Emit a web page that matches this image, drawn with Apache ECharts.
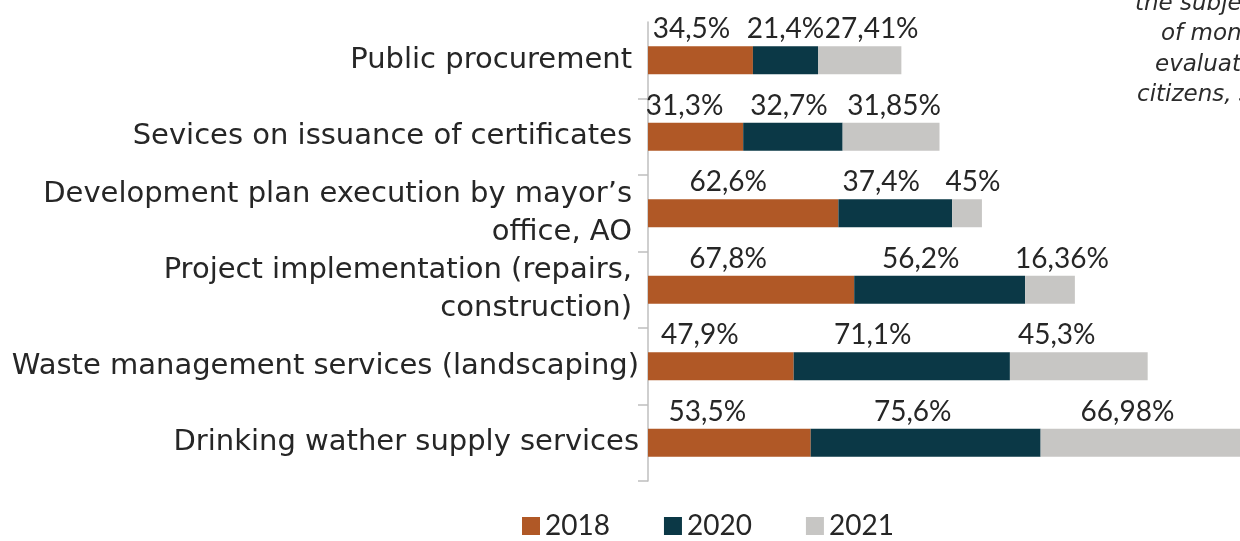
<!DOCTYPE html>
<html>
<head>
<meta charset="utf-8">
<script src="https://cdn.jsdelivr.net/npm/echarts@6/dist/echarts.min.js"></script>
<style>html,body{margin:0;padding:0;background:#fff;}#c{width:1240px;height:541px;}</style>
</head>
<body>
<div id="c"></div>
<script>
// ---- data ----
const categories = [
  'Public procurement',
  'Sevices on issuance of certificates',
  'Development plan execution by mayor\u2019s\noffice, AO',
  'Project implementation (repairs,\nconstruction)',
  'Waste management services (landscaping)',
  'Drinking wather supply services'
];
const seriesNames = ['2018', '2020', '2021'];
const values2018 = [34.5, 31.3, 62.6, 67.8, 47.9, 53.5];
const values2020 = [21.4, 32.7, 37.4, 56.2, 71.1, 75.6];
const values2021 = [27.41, 31.85, 9.8, 16.36, 45.3, 66.98];
const labels2018 = ['34,5%', '31,3%', '62,6%', '67,8%', '47,9%', '53,5%'];
const labels2020 = ['21,4%', '32,7%', '37,4%', '56,2%', '71,1%', '75,6%'];
const labels2021 = ['27,41%', '31,85%', '45%', '16,36%', '45,3%', '66,98%'];
const noteLines = ['the subject', 'of monitoring', 'evaluation by', 'citizens, surveys'];

// ---- style ----
const colors = ['#B05826', '#0B3846', '#C7C6C4'];
const textColor = '#262626';
const FONT = 'Lato';
const CAT_FONT = 'DejaVu Sans';
// horizontal label nudges (px) per series, per category
const labelNudge = [
  [-9, -11, -15, -23, -21, -22],
  [0, -4, -14, -19, -29, -13],
  [12, 3, 6, 12, -22, -15]
];
// extra right padding for the category labels (px)
const catPad = [7, 7, 7, 7, 0, 0];

const vals = [values2018, values2020, values2021];
const labs = [labels2018, labels2020, labels2021];

const chart = echarts.init(document.getElementById('c'), null, {renderer: 'canvas'});

const series = seriesNames.map((name, si) => ({
  name: name,
  type: 'bar',
  stack: 'total',
  barWidth: 28,
  clip: false,
  itemStyle: {color: colors[si]},
  data: vals[si].map((v, ci) => ({
    value: v,
    label: {offset: [labelNudge[si][ci], 0]}
  })),
  label: {
    show: true,
    position: 'top',
    distance: 3,
    fontFamily: FONT,
    fontSize: 28,
    color: textColor,
    formatter: p => labs[si][p.dataIndex]
  }
}));

const graphics = noteLines.map((t, i) => ({
  type: 'text',
  x: [1135, 1161, 1155, 1137][i],
  y: [11, 41, 72, 102][i] - 7,
  style: {
    text: t,
    fill: '#2b2b2b',
    font: 'italic 23px "' + CAT_FONT + '"',
    textAlign: 'left',
    textVerticalAlign: 'middle'
  }
}));

chart.setOption({
  animation: false,
  backgroundColor: '#ffffff',
  grid: {left: 648, top: 22, right: 2, height: 459, containLabel: false},
  xAxis: {
    type: 'value', min: 0, max: 194, show: false,
    splitLine: {show: false}
  },
  yAxis: {
    type: 'category',
    inverse: true,
    data: categories,
    axisLine: {show: true, lineStyle: {color: '#BFBFBF', width: 1.5}},
    axisTick: {
      show: true, length: 10, lineStyle: {color: '#BFBFBF', width: 1.5},
      interval: (idx) => idx !== 0
    },
    axisLabel: {
      fontFamily: CAT_FONT, fontSize: 29, color: textColor, margin: 9, lineHeight: 38,
      align: 'right',
      formatter: (value, idx) => value.split('\n')
        .map(line => (catPad[idx] ? '{p|' : '{q|') + line + '}').join('\n'),
      rich: {
        p: {fontFamily: CAT_FONT, fontSize: 29, color: textColor, lineHeight: 38, padding: [0, 7, 0, 0]},
        q: {fontFamily: CAT_FONT, fontSize: 29, color: textColor, lineHeight: 38}
      }
    },
    splitLine: {show: false}
  },
  legend: {
    data: seriesNames,
    left: 522,
    top: 512,
    padding: 0,
    icon: 'rect',
    itemWidth: 18,
    itemHeight: 18,
    itemGap: 54,
    textStyle: {fontFamily: FONT, fontSize: 28, color: textColor}
  },
  graphic: graphics,
  series: series
});
</script>
</body>
</html>
